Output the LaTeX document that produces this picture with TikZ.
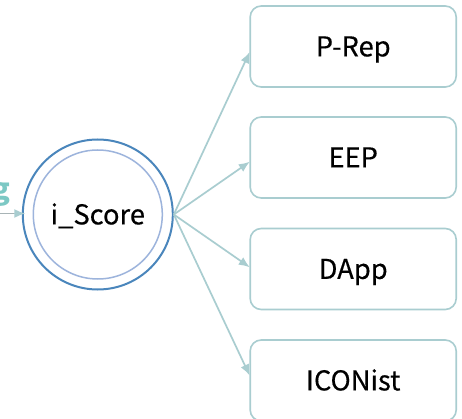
\documentclass[tikz,border=0pt]{standalone}
\usepackage{fontspec}
\setmainfont{Noto Sans CJK KR}
\newfontfamily\labelfont[FakeBold=0.35]{Noto Sans CJK KR}
\usetikzlibrary{calc,arrows.meta}
\definecolor{tealline}{HTML}{A9CDD0}
\definecolor{outerblue}{HTML}{4A86BC}
\definecolor{innerblue}{HTML}{9DB4DC}
\definecolor{tealtext}{HTML}{7CC8C4}
\definecolor{grayline}{HTML}{A8B4B6}
\tikzset{
  x=1pt,y=-1pt,
  label text/.style={font=\labelfont\fontsize{27.3}{30}\selectfont,text=black,text height=19.8pt,text depth=0pt},
  target/.style={label text,draw=tealline,line width=1.6pt,rounded corners=11pt,minimum width=206pt,minimum height=81pt,inner sep=0pt,fill=white},
  link/.style={draw=tealline,line width=1.7pt,-{Latex[length=11pt,width=9pt]},shorten >=-0.5pt},
}
\begin{document}
\begin{tikzpicture}
\useasboundingbox (0,0) rectangle (462,419);
\clip (0,0) rectangle (462,419);
\fill[white] (0,0) rectangle (462,419);
\node[anchor=base east,inner sep=0pt,font=\bfseries\fontsize{29}{32}\selectfont,text=tealtext] (word) at (10.5,200) {g};
\node[circle,draw=outerblue,line width=2pt,minimum size=150pt,inner sep=0pt,fill=white] (score) at (97.8,214.5) {};
\node[circle,draw=innerblue,line width=1.5pt,minimum size=129pt,inner sep=0pt,label text] (inner) at (97.8,214.5) {i\_Score};
\node[target] (prep) at (353.2,46.5) {P-Rep};
\node[target] (eep) at (353.2,157.5) {EEP};
\node[target] (dapp) at (353.2,269) {DApp};
\node[target] (iconist) at (353.2,380.5) {ICONist};
\coordinate (free) at (0,213.5);
\draw[draw=grayline,line width=1.6pt] (free) -- ($(score.west)+(-6,-1)$);
\draw[link] (free) ++(14,0) -- ($(score.west)+(3,-1)$);
\draw[link] (score.east) -- ($(prep.west)+(0,6)$);
\draw[link] (score.east) -- ($(eep.west)+(0,4.5)$);
\draw[link] (score.east) -- ($(dapp.west)+(0,-2)$);
\draw[link] (score.east) -- ($(iconist.west)+(0,-5.5)$);
\end{tikzpicture}
\end{document}
